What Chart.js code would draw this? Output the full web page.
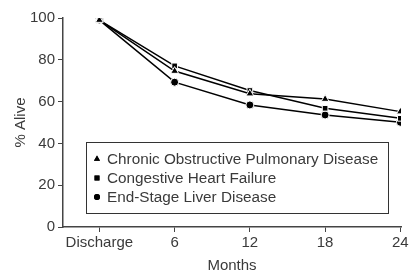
<!DOCTYPE html>
<html>
<head>
<meta charset="utf-8">
<script src="https://cdn.jsdelivr.net/npm/chart.js@4"></script>
<style>
  html, body { margin: 0; padding: 0; background: #fff; }
  #wrap { width: 417px; height: 275px; }
</style>
</head>
<body>
<div id="wrap"><canvas id="chart" width="417" height="275"></canvas></div>
<script>
// x positions in months, 0 = discharge
const months = [0, 6, 12, 18, 24];
const monthLabels = ['Discharge', '6', '12', '18', '24'];

const copd = [99, 74.6, 63.8, 61.2, 55.2];
const chf = [99, 77.1, 65.3, 56.8, 52];
const esld = [99, 69.3, 58.4, 53.6, 50.1];

const seriesNames = [
    'Chronic Obstructive Pulmonary Disease',
    'Congestive Heart Failure',
    'End-Stage Liver Disease'
];
const markers = ['triangle', 'rect', 'circle'];

const textColor = '#3a3a3a';
const axisColor = '#444';
const fontFamily = '"Liberation Sans", Arial, Helvetica, sans-serif';

function makeSet(label, values, style) {
    return {
        label: label,
        data: values.map((v, i) => ({ x: months[i], y: v })),
        borderColor: '#000',
        borderWidth: 1.5,
        pointStyle: style,
        pointRadius: style === 'triangle' ? 4.5 : 4,
        pointBackgroundColor: '#000',
        pointBorderColor: '#fff',
        pointBorderWidth: 1,
        tension: 0
    };
}

// legend in a box, drawn inside the plot area
const boxLegend = {
    id: 'boxLegend',
    afterDraw(chart) {
        const ctx = chart.ctx;
        const area = chart.chartArea;
        const left = area.left + 23, top = area.top + 124;
        const w = 302, h = 71;
        ctx.save();
        ctx.strokeStyle = '#333';
        ctx.lineWidth = 1;
        ctx.strokeRect(left + 0.5, top + 0.5, w, h);
        ctx.font = '15.3px ' + fontFamily;
        ctx.textBaseline = 'middle';
        chart.data.datasets.forEach((ds, i) => {
            const y = top + 17 + i * 19;
            ctx.fillStyle = '#000';
            const r = ds.pointStyle === 'circle' ? 3 : 3.5;
            Chart.helpers.drawPoint(ctx, { pointStyle: ds.pointStyle, radius: r, borderWidth: 0, rotation: 0 }, left + 11, y);
            ctx.fill();
            ctx.fillStyle = textColor;
            ctx.fillText(ds.label, left + 21, y + 1);
        });
        ctx.restore();
    }
};

new Chart(document.getElementById('chart'), {
    type: 'line',
    data: {
        datasets: [
            makeSet(seriesNames[0], copd, markers[0]),
            makeSet(seriesNames[1], chf, markers[1]),
            makeSet(seriesNames[2], esld, markers[2])
        ]
    },
    options: {
        responsive: false,
        animation: false,
        layout: { padding: { top: 18, right: 16, left: 12, bottom: 0 } },
        plugins: {
            legend: { display: false },
            tooltip: { enabled: false }
        },
        scales: {
            x: {
                type: 'linear',
                min: -2.9,
                max: 24.05,
                afterBuildTicks(scale) {
                    scale.ticks = months.map(v => ({ value: v }));
                },
                afterFit(scale) { scale.height = 48; },
                ticks: {
                    color: textColor,
                    font: { family: fontFamily, size: 15 },
                    padding: 2,
                    maxRotation: 0,
                    autoSkip: false,
                    callback: (v) => monthLabels[months.indexOf(v)]
                },
                grid: {
                    drawOnChartArea: false,
                    drawTicks: true,
                    tickLength: 5,
                    tickColor: axisColor
                },
                border: { display: true, color: axisColor, width: 1.5 },
                title: {
                    display: true,
                    text: 'Months',
                    color: textColor,
                    font: { family: fontFamily, size: 15 },
                    padding: { top: 4, bottom: 0 }
                }
            },
            y: {
                min: 0,
                max: 100,
                afterFit(scale) { scale.width = 51; },
                ticks: {
                    stepSize: 10,
                    color: textColor,
                    font: { family: fontFamily, size: 15 },
                    padding: 3,
                    callback: (v) => (v % 20 === 0 ? v : '')
                },
                grid: {
                    drawOnChartArea: false,
                    drawTicks: true,
                    tickLength: 5,
                    tickColor: axisColor
                },
                border: { display: true, color: axisColor, width: 1.5 },
                title: {
                    display: true,
                    text: '% Alive',
                    color: textColor,
                    font: { family: fontFamily, size: 15 },
                    padding: { top: 0, bottom: 4 }
                }
            }
        }
    },
    plugins: [boxLegend]
});
</script>
</body>
</html>
